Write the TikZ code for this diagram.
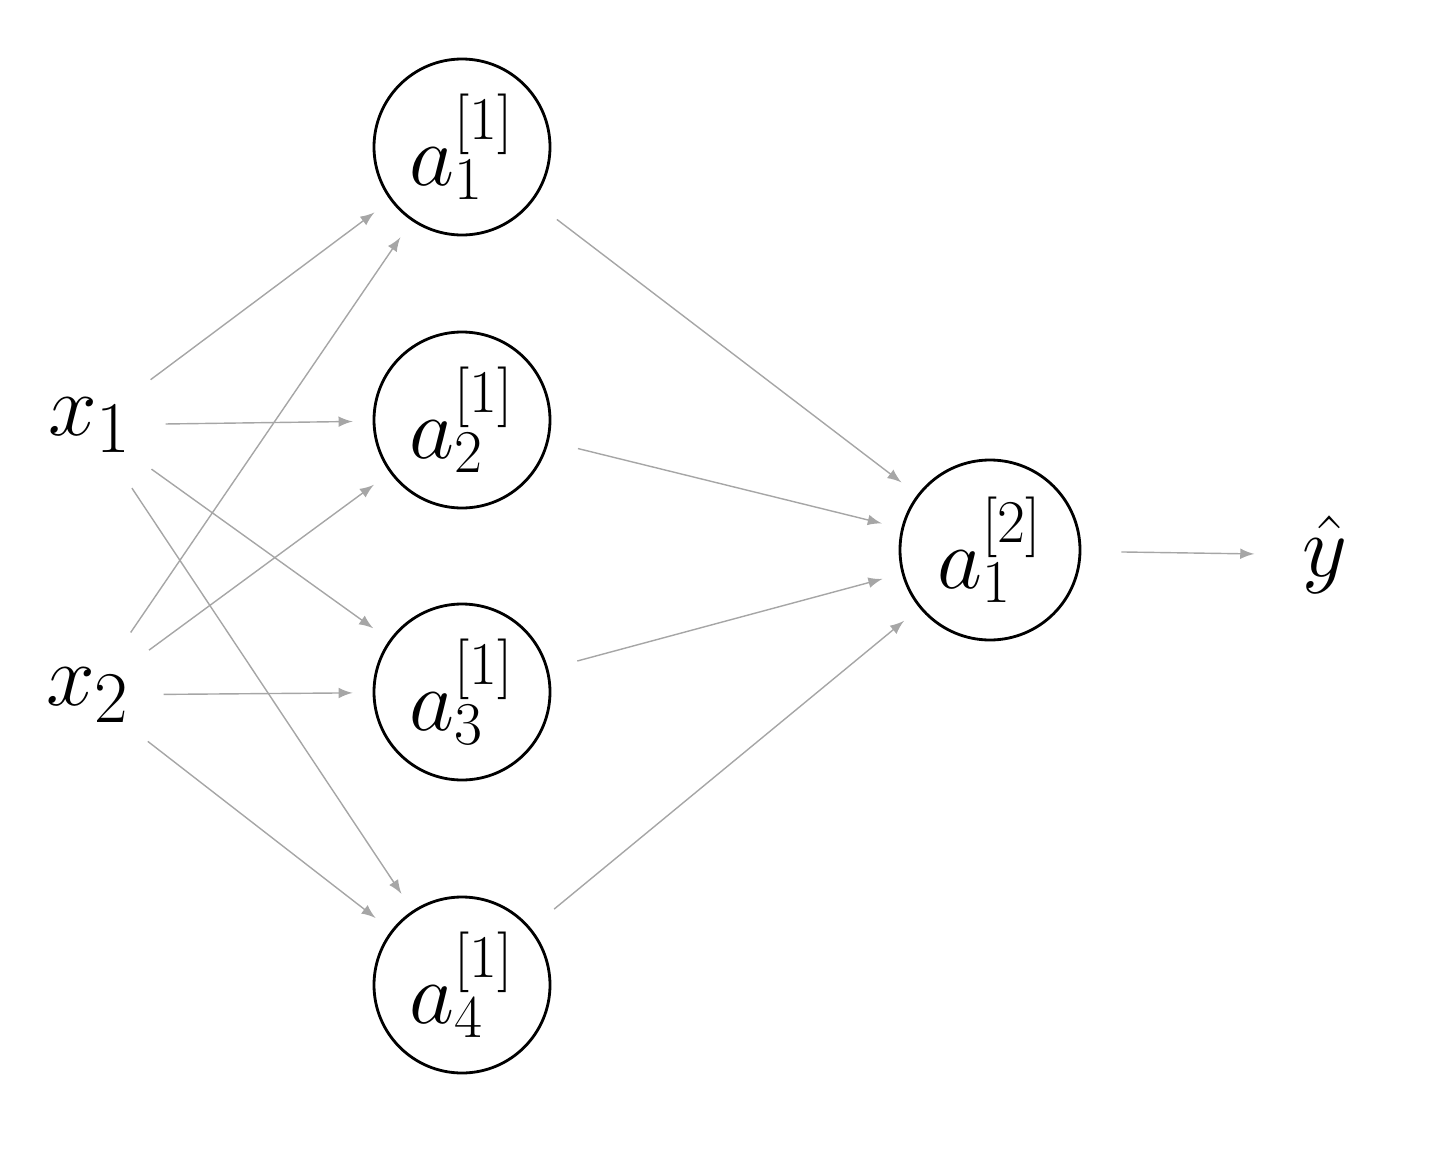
\documentclass[tikz,border=0pt]{standalone}
\usetikzlibrary{positioning}
\tikzset{
  neuron/.style={circle,draw,thick,minimum size=1.76cm,inner sep=0pt},
  io/.style={circle,minimum size=1.5cm,inner sep=0pt},
  conn/.style={->,gray!70,thin,>=latex}
}
\newcommand{\unit}[2]{a^{\scriptscriptstyle[#1]}_{\scriptscriptstyle #2}}
\begin{document}
\begin{tikzpicture}[font=\fontsize{32}{38}\selectfont]
\useasboundingbox (0,0) rectangle (14.4,11.65);
% inputs
\node[io] (x1) at (0.9,7.4) {$x_1$};
\node[io] (x2) at (0.88,4.7) {$x_2$};
% hidden layer
\node[neuron] (h1) at (4.62,10.18) {$\unit{1}{1}$};
\node[neuron] (h2) at (4.62,7.45) {$\unit{1}{2}$};
\node[neuron] (h3) at (4.62,4.73) {$\unit{1}{3}$};
\node[neuron] (h4) at (4.62,1.8) {$\unit{1}{4}$};
% output
\node[neuron,minimum size=1.8cm] (out) at (9.9,6.15) {$\unit{2}{1}$};
\node[io,minimum size=1.4cm,font=\fontsize{44}{50}\selectfont] (yhat) at (13.25,6.1) {$\hat{y}$};

\foreach \i in {x1,x2}
\foreach \h in {h1,h2,h3,h4}
\draw[conn,shorten >=0.2cm] (\i) -- (\h);

\foreach \h in {h1,h2,h3,h4}
\draw[conn,shorten <=0.3cm,shorten >=0.2cm] (\h) -- (out);

\draw[conn,shorten <=0.4cm] (out) -- (yhat);
\end{tikzpicture}
\end{document}
